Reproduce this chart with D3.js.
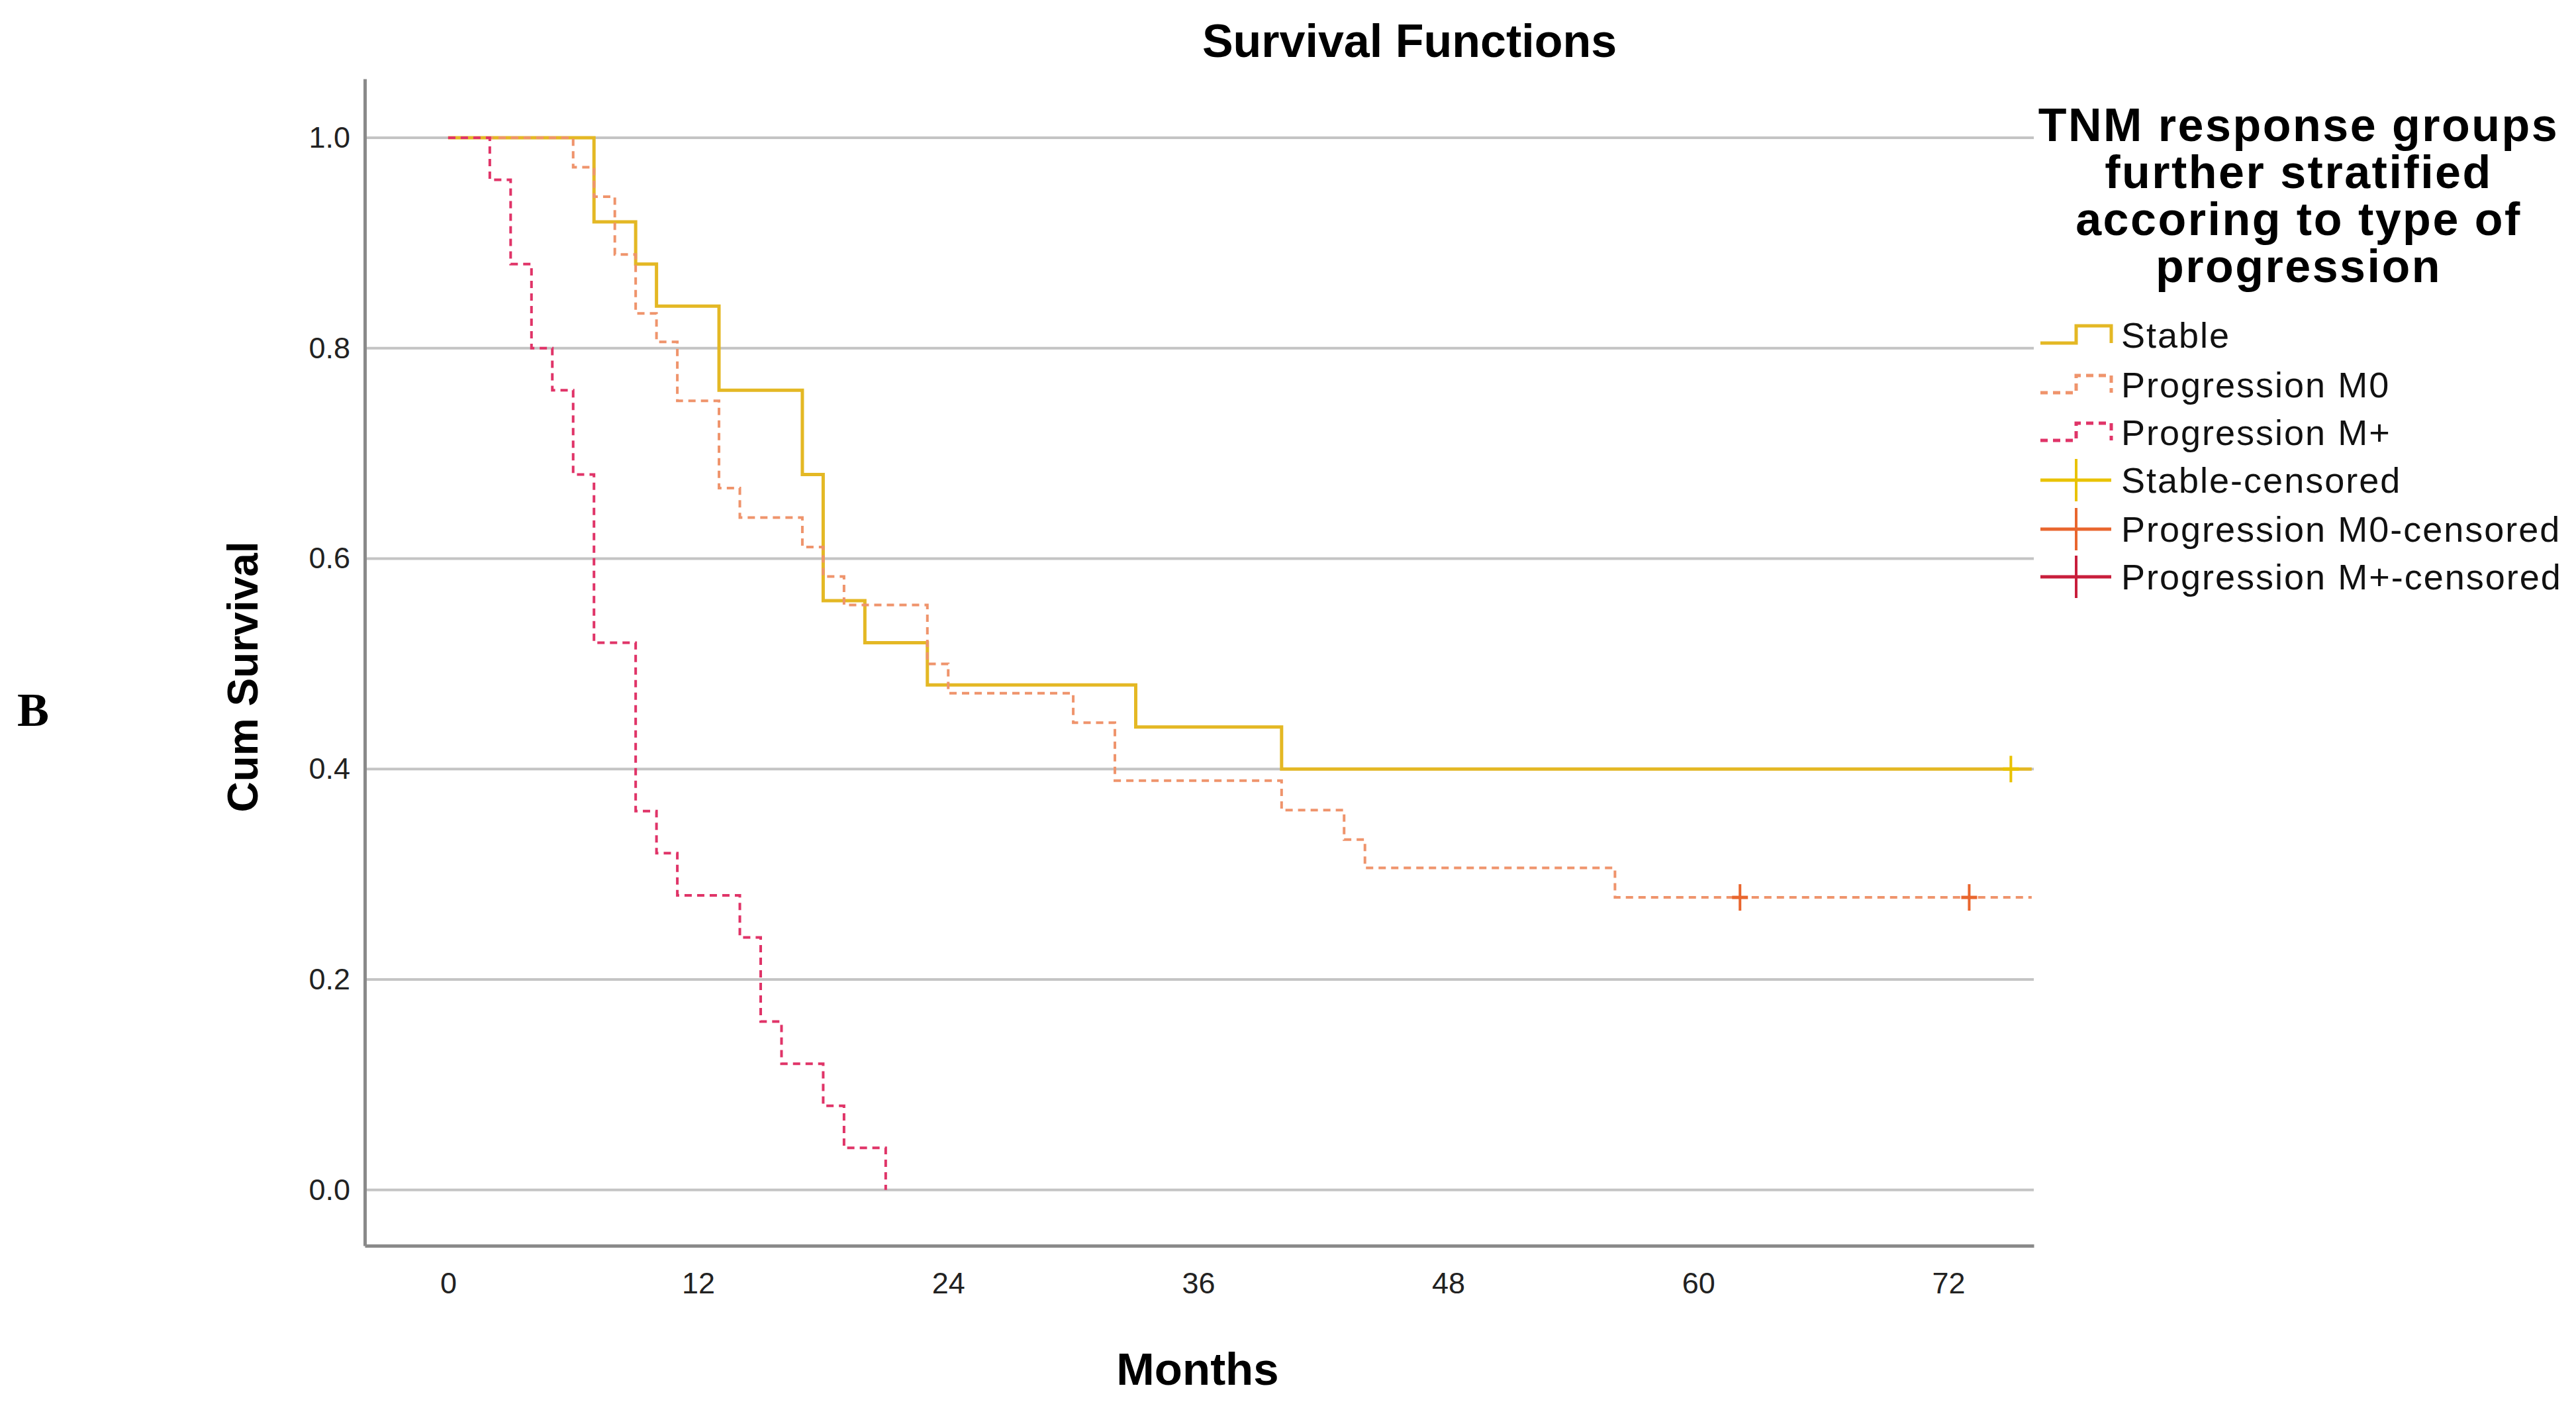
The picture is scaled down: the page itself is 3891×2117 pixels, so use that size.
<!DOCTYPE html>
<html>
<head>
<meta charset="utf-8">
<script src="https://cdn.jsdelivr.net/npm/d3@7"></script>
<style>
  body { margin: 0; background: #fff; }
  text { font-family: "Liberation Sans", Arial, sans-serif; }
</style>
</head>
<body>
<div id="chart"></div>
<script>
// Kaplan-Meier steps: from each time on, survival is the matching value
const stableTimes = [0, 7, 9, 10, 13, 17, 18, 20, 23, 33, 40, 76];
const stableSurv  = [1, 0.92, 0.88, 0.84, 0.76, 0.68, 0.56, 0.52, 0.48, 0.44, 0.40, 0.40];

const m0Times = [0, 6, 7, 8, 9, 10, 11, 13, 14, 17, 18, 19, 23, 24, 30, 32, 40, 43, 44, 56, 76];
const m0Surv  = [1, 0.972, 0.944, 0.889, 0.833, 0.806, 0.75, 0.667, 0.639, 0.611, 0.583, 0.556, 0.5, 0.472, 0.444, 0.389, 0.361, 0.333, 0.306, 0.278, 0.278];

const mpTimes = [0, 2, 3, 4, 5, 6, 7, 9, 10, 11, 14, 15, 16, 18, 19, 21];
const mpSurv  = [1, 0.96, 0.88, 0.80, 0.76, 0.68, 0.52, 0.36, 0.32, 0.28, 0.24, 0.16, 0.12, 0.08, 0.04, 0];

// censored observations
const stableCensTimes = [75];
const stableCensSurv  = [0.40];
const m0CensTimes = [62, 73];
const m0CensSurv  = [0.278, 0.278];

const xTicks = [0, 12, 24, 36, 48, 60, 72];
const yTicks = [0, 0.2, 0.4, 0.6, 0.8, 1.0];

const legendTitle = ["TNM response groups", "further stratified", "accoring to type of", "progression"];
const legendLabels = ["Stable", "Progression M0", "Progression M+", "Stable-censored", "Progression M0-censored", "Progression M+-censored"];

const colStable = "#e4b824", colM0 = "#ef946c", colMp = "#e03468";
const censCols = ["#e9c200", "#e9662e", "#c81e3c"];

const W = 3891, H = 2117;
const svg = d3.select("#chart").append("svg")
    .attr("width", W)
    .attr("height", H);

const x = d3.scaleLinear().domain([-4, 76.1]).range([551, 3072]);
const y = d3.scaleLinear().domain([-0.053, 1.056]).range([1881, 119]);

// gridlines
svg.append("g").selectAll("line")
    .data(yTicks)
  .enter().append("line")
    .attr("x1", x.range()[0]).attr("x2", x.range()[1])
    .attr("y1", d => y(d)).attr("y2", d => y(d))
    .attr("stroke", "#c4c4c4")
    .attr("stroke-width", 4);

// axes
const yAxis = svg.append("g")
    .attr("transform", `translate(${x.range()[0]},0)`)
    .call(d3.axisLeft(y).tickValues(yTicks).tickFormat(d3.format(".1f")).tickSize(0).tickPadding(22));
const xAxis = svg.append("g")
    .attr("transform", `translate(0,${y.range()[0]})`)
    .call(d3.axisBottom(x).tickValues(xTicks).tickSize(0).tickPadding(40));

[yAxis, xAxis].forEach(a => {
  a.select(".domain").attr("stroke", "#8a8a8a").attr("stroke-width", 5);
  a.selectAll("text")
      .attr("font-size", 45)
      .attr("fill", "#222")
      .style("font-family", "'Liberation Sans', Arial, sans-serif");
});

// survival curves
const line = d3.line()
    .x(d => x(d[0]))
    .y(d => y(d[1]))
    .curve(d3.curveStepAfter);

const series = [
  { t: stableTimes, s: stableSurv, color: colStable, dash: null },
  { t: m0Times, s: m0Surv, color: colM0, dash: "11,8" },
  { t: mpTimes, s: mpSurv, color: colMp, dash: "11,8" }
];

svg.append("g").selectAll("path")
    .data(series)
  .enter().append("path")
    .attr("d", d => line(d.t.map((t, i) => [t, d.s[i]])))
    .attr("fill", "none")
    .attr("stroke", d => d.color)
    .attr("stroke-width", d => d.dash ? 4 : 5)
    .attr("stroke-dasharray", d => d.dash);

// censor marks
const cens = [
  ...stableCensTimes.map((t, i) => ({ t: t, s: stableCensSurv[i], c: censCols[0] })),
  ...m0CensTimes.map((t, i) => ({ t: t, s: m0CensSurv[i], c: censCols[1] }))
];
const cg = svg.append("g").selectAll("g")
    .data(cens)
  .enter().append("g")
    .attr("transform", d => `translate(${x(d.t)},${y(d.s)})`);
cg.append("line")
    .attr("y1", -20).attr("y2", 20)
    .attr("stroke", d => d.c).attr("stroke-width", 4);
cg.append("line")
    .attr("x1", -12).attr("x2", 12)
    .attr("stroke", d => d.c).attr("stroke-width", 5);

// title and axis titles
svg.append("text")
    .attr("x", 2129).attr("y", 62)
    .attr("text-anchor", "middle").attr("dominant-baseline", "central")
    .attr("font-size", 70).attr("font-weight", "bold")
    .text("Survival Functions");

svg.append("text")
    .attr("x", 1809).attr("y", 2067)
    .attr("text-anchor", "middle").attr("dominant-baseline", "central")
    .attr("font-size", 69).attr("font-weight", "bold")
    .text("Months");

svg.append("text")
    .attr("transform", "translate(367,1022) rotate(-90)")
    .attr("text-anchor", "middle").attr("dominant-baseline", "central")
    .attr("font-size", 64).attr("font-weight", "bold")
    .text("Cum Survival");

svg.append("text")
    .attr("x", 50).attr("y", 1072)
    .attr("text-anchor", "middle").attr("dominant-baseline", "central")
    .attr("font-size", 72).attr("font-weight", "bold")
    .style("font-family", "'Liberation Serif', 'Times New Roman', serif")
    .text("B");

// legend
svg.append("g").selectAll("text")
    .data(legendTitle)
  .enter().append("text")
    .attr("x", 3472)
    .attr("y", (d, i) => 189 + i * 71)
    .attr("text-anchor", "middle").attr("dominant-baseline", "central")
    .attr("font-size", 70).attr("font-weight", "bold")
    .attr("letter-spacing", 2.5)
    .text(d => d);

const legY = [506, 581, 653, 725, 799, 871];
const lx0 = 3082, lx1 = 3189, lxm = 3136;
const leg = svg.append("g").selectAll("g")
    .data(legendLabels)
  .enter().append("g")
    .attr("transform", (d, i) => `translate(0,${legY[i]})`);

leg.each(function(d, i) {
  const g = d3.select(this);
  if (i < 3) {
    const s = series[i];
    g.append("path")
        .attr("d", `M${lx0},12H${lxm}V-14H${lx1}V12`)
        .attr("fill", "none")
        .attr("stroke", s.color)
        .attr("stroke-width", 5)
        .attr("stroke-dasharray", s.dash);
  } else {
    const c = censCols[i - 3];
    g.append("line").attr("x1", lx0).attr("x2", lx1)
        .attr("stroke", c).attr("stroke-width", 5);
    g.append("line").attr("x1", lxm).attr("x2", lxm).attr("y1", -32).attr("y2", 32)
        .attr("stroke", c).attr("stroke-width", 4);
  }
  g.append("text")
      .attr("x", 3204)
      .attr("dominant-baseline", "central")
      .attr("font-size", 54)
      .attr("letter-spacing", 2)
      .attr("fill", "#111")
      .text(d);
});
</script>
</body>
</html>
